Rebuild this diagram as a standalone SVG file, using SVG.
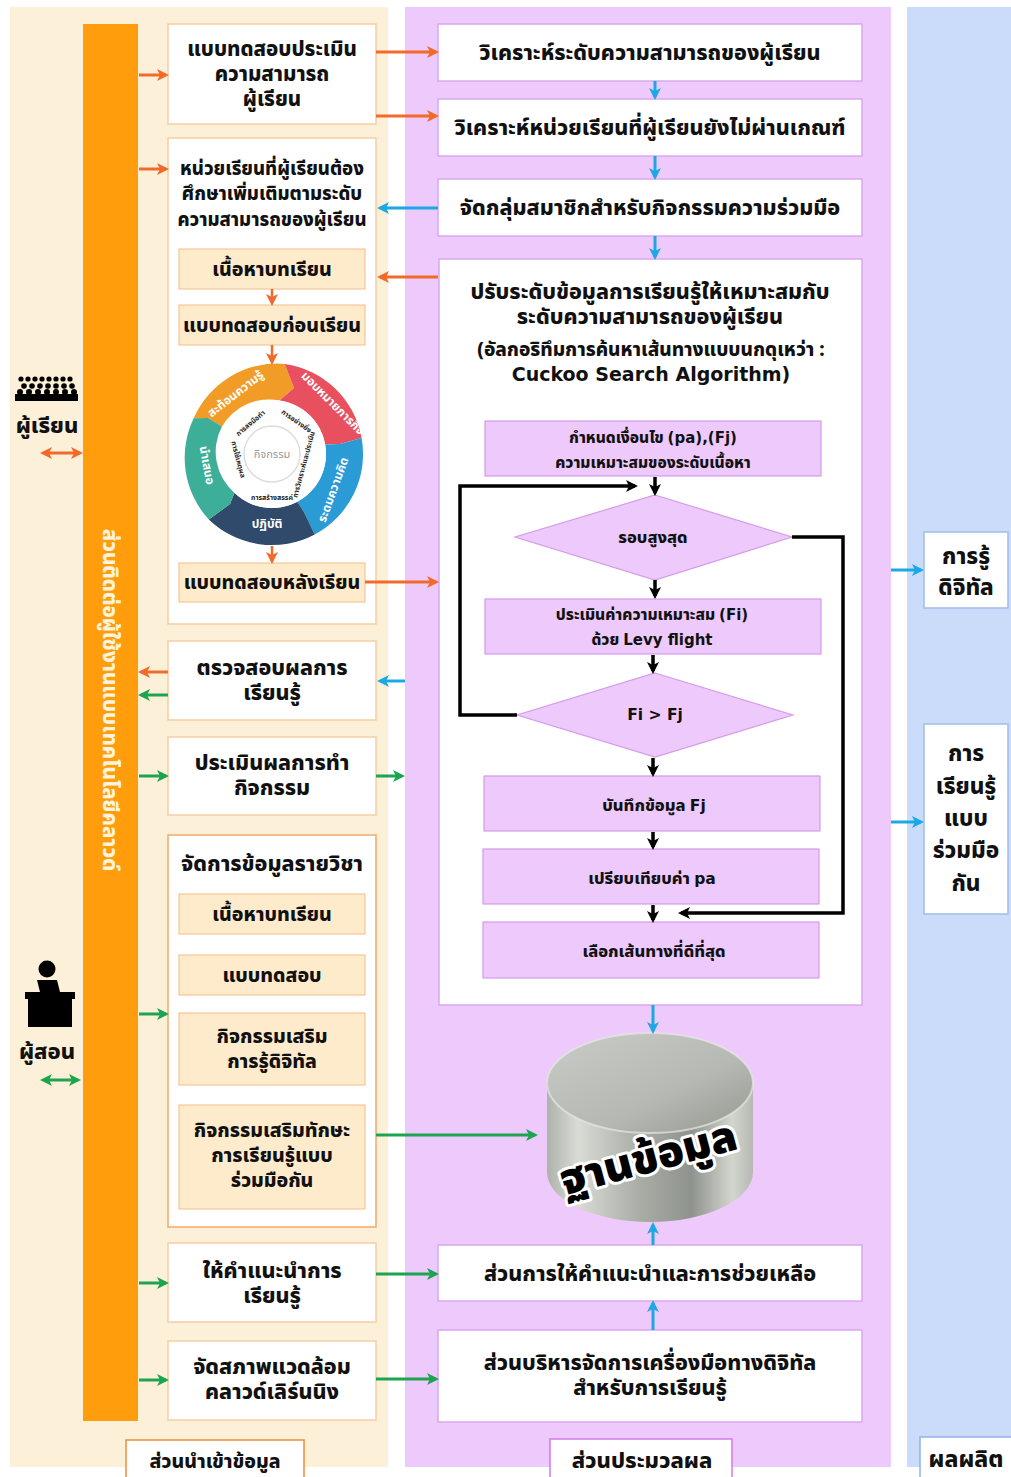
<svg xmlns="http://www.w3.org/2000/svg" width="1011" height="1477" viewBox="0 0 1011 1477">
  <style>
    .t { font-family: "Noto Sans Thai", "Noto Sans", "Liberation Sans", sans-serif; font-weight: 800; fill: #111; text-anchor: middle; }
    .en { font-family: "DejaVu Sans", "Noto Sans Thai", sans-serif; font-weight: 700; }
    .box { fill: #fff; stroke: #F7CDA3; stroke-width: 1.5; }
    .sub { fill: #FDEBCB; stroke: #F5C795; stroke-width: 1.2; }
    .mbox { fill: #fff; stroke: #D9A8EE; stroke-width: 1.5; }
    .fbox { fill: #EEC9FB; stroke: #D49BEA; stroke-width: 1.2; }
    .rbox { fill: #fff; stroke: #9FBDEB; stroke-width: 1.5; }
    .ao { stroke: #F26A2A; stroke-width: 3; fill: none; marker-end: url(#hO); }
    .ag { stroke: #1CA450; stroke-width: 3; fill: none; marker-end: url(#hG); }
    .ab { stroke: #1BA8E5; stroke-width: 3; fill: none; marker-end: url(#hB); }
    .ak { stroke: #000; stroke-width: 3.5; fill: none; marker-end: url(#hK); }
    .seg { font-family: "Noto Sans Thai", "Noto Sans", sans-serif; font-weight: 700; font-size: 12px; fill: #fff; text-anchor: middle; }
    .inn { font-family: "Noto Sans Thai", "Noto Sans", sans-serif; font-weight: 700; font-size: 7px; fill: #222; text-anchor: middle; }
  </style>
  <defs>
    <marker id="hO" markerWidth="12" markerHeight="12" refX="9" refY="6" orient="auto" markerUnits="userSpaceOnUse"><path d="M0,0 L12,6 L0,12 L3,6 z" fill="#F26A2A"/></marker>
    <marker id="hG" markerWidth="12" markerHeight="12" refX="9" refY="6" orient="auto" markerUnits="userSpaceOnUse"><path d="M0,0 L12,6 L0,12 L3,6 z" fill="#1CA450"/></marker>
    <marker id="hB" markerWidth="12" markerHeight="12" refX="9" refY="6" orient="auto" markerUnits="userSpaceOnUse"><path d="M0,0 L12,6 L0,12 L3,6 z" fill="#1BA8E5"/></marker>
    <marker id="hK" markerWidth="12" markerHeight="12" refX="9" refY="6" orient="auto" markerUnits="userSpaceOnUse"><path d="M0,0 L12,6 L0,12 L3,6 z" fill="#000"/></marker>
    <marker id="sO" markerWidth="12" markerHeight="12" refX="3" refY="6" orient="auto-start-reverse" markerUnits="userSpaceOnUse"><path d="M0,0 L12,6 L0,12 L3,6 z" fill="#F26A2A"/></marker>
    <marker id="sG" markerWidth="12" markerHeight="12" refX="3" refY="6" orient="auto-start-reverse" markerUnits="userSpaceOnUse"><path d="M0,0 L12,6 L0,12 L3,6 z" fill="#1CA450"/></marker>
    <linearGradient id="cylBody" x1="0" y1="0" x2="1" y2="0">
      <stop offset="0" stop-color="#AEB2AB"/>
      <stop offset="0.15" stop-color="#D9DBD5"/>
      <stop offset="0.45" stop-color="#A9ADA6"/>
      <stop offset="0.7" stop-color="#8F938D"/>
      <stop offset="0.9" stop-color="#D3D6CF"/>
      <stop offset="1" stop-color="#B5B9B2"/>
    </linearGradient>
    <linearGradient id="cylTop" x1="0" y1="0" x2="1" y2="1">
      <stop offset="0" stop-color="#C9CBC6"/>
      <stop offset="0.6" stop-color="#B6B9B3"/>
      <stop offset="1" stop-color="#94978F"/>
    </linearGradient>
  </defs>

  <!-- background panels -->
  <rect x="0" y="0" width="1011" height="1477" fill="#fff"/>
  <rect x="10" y="7" width="378" height="1460" fill="#FDF0D9"/>
  <rect x="405" y="7" width="486" height="1460" fill="#EEC9FB"/>
  <rect x="907" y="7" width="104" height="1460" fill="#CBDBFA"/>

  <!-- interface bar -->
  <g id="interface-bar">
    <rect x="83" y="24" width="55" height="1397" fill="#FF9D0C"/>
    <text class="t" transform="translate(111,700) rotate(90)" y="8" font-size="20.5" style="fill:#FFF3DC">ส่วนติดต่อผู้ใช้งานแบบเทคโนโลยีคลาวด์</text>
  </g>

  <!-- learner actor -->
  <g id="learner">
    <g fill="#000">
      <circle cx="21" cy="379" r="2.6"/><circle cx="28" cy="379" r="2.6"/><circle cx="35" cy="379" r="2.6"/><circle cx="42" cy="379" r="2.6"/><circle cx="49" cy="379" r="2.6"/><circle cx="56" cy="379" r="2.6"/><circle cx="63" cy="379" r="2.6"/><circle cx="70" cy="379" r="2.6"/>
      <circle cx="24" cy="386" r="2.8"/><circle cx="32" cy="386" r="2.8"/><circle cx="40" cy="386" r="2.8"/><circle cx="48" cy="386" r="2.8"/><circle cx="56" cy="386" r="2.8"/><circle cx="64" cy="386" r="2.8"/><circle cx="72" cy="386" r="2.8"/>
      <circle cx="20" cy="392" r="3"/><circle cx="29" cy="392" r="3"/><circle cx="38" cy="392" r="3"/><circle cx="47" cy="392" r="3"/><circle cx="56" cy="392" r="3"/><circle cx="65" cy="392" r="3"/><circle cx="74" cy="392" r="3"/>
      <rect x="15" y="394" width="63" height="7"/>
    </g>
    <text class="t" x="47" y="433" font-size="22">ผู้เรียน</text>
  </g>

  <!-- teacher actor -->
  <g id="teacher">
    <circle cx="47" cy="969" r="8.5" fill="#000"/>
    <path d="M37,980 h20 l3,12 h15 v7 h-3 v28 h-44 v-28 h-3 v-7 h15 z" fill="#000"/>
    <text class="t" x="47" y="1059" font-size="22">ผู้สอน</text>
  </g>

  <!-- input-side nodes -->
  <g id="test-ability">
    <rect class="box" x="168" y="24" width="208" height="100"/>
    <text class="t" font-size="20.5"><tspan x="272" y="56">แบบทดสอบประเมิน</tspan><tspan x="272" y="81">ความสามารถ</tspan><tspan x="272" y="106">ผู้เรียน</tspan></text>
  </g>

  <g id="study-units">
    <rect class="box" x="168" y="138" width="208" height="486"/>
    <text class="t" font-size="18.5"><tspan x="272" y="175">หน่วยเรียนที่ผู้เรียนต้อง</tspan><tspan x="272" y="200">ศึกษาเพิ่มเติมตามระดับ</tspan><tspan x="272" y="226">ความสามารถของผู้เรียน</tspan></text>
  </g>
  <g id="lesson-content">
    <rect class="sub" x="179" y="249" width="186" height="40"/>
    <text class="t" x="272" y="276" font-size="19.5">เนื้อหาบทเรียน</text>
  </g>
  <g id="pretest">
    <rect class="sub" x="179" y="305" width="186" height="40"/>
    <text class="t" x="272" y="332" font-size="19.5">แบบทดสอบก่อนเรียน</text>
  </g>

  <!-- activity cycle wheel -->
  <g id="activity-wheel">
    <!-- segments: orange, red, blue, navy, teal (clockwise chevrons) -->
    <path d="M193.7,418.3 A91,91 0 0,1 284.7,363.9 L294,388 L279.5,400.5 A54,54 0 0,0 222.0,426.5 L208,418 Z" fill="#F29C28"/>
    <path d="M284.7,363.9 A91,91 0 0,1 361.6,437.9 L340,444 L325.2,444.6 A54,54 0 0,0 279.5,400.5 L294,388 Z" fill="#E8505F"/>
    <path d="M361.6,437.9 A91,91 0 0,1 314.7,534.4 L304,512 L297.3,501.7 A54,54 0 0,0 325.2,444.6 L340,444 Z" fill="#2B9BD6"/>
    <path d="M314.7,534.4 A91,91 0 0,1 208.8,519.5 L230,504 L234.5,492.8 A54,54 0 0,0 297.3,501.7 L304,512 Z" fill="#2F4A6B"/>
    <path d="M208.8,519.5 A91,91 0 0,1 193.7,418.3 L208,418 L222.0,426.5 A54,54 0 0,0 234.5,492.8 L230,504 Z" fill="#3DAE97"/>
    <circle cx="272" cy="454" r="54" fill="#fff"/>
    <circle cx="272" cy="454" r="28" fill="#fff" stroke="#DDD" stroke-width="1.5"/>
    <text x="272" y="458" text-anchor="middle" font-family="Noto Sans Thai, Noto Sans, sans-serif" font-size="11" fill="#999">กิจกรรม</text>
    <text class="seg" transform="translate(238,397) rotate(-38)">สะท้อนความรู้</text>
    <text class="seg" transform="translate(330,406) rotate(45)">มอบหมายภารกิจ</text>
    <text class="seg" transform="translate(337,491) rotate(-70)">ระดมความคิด</text>
    <text class="seg" x="267" y="528">ปฏิบัติ</text>
    <text class="seg" transform="translate(203,466) rotate(80)">นำเสนอ</text>
    <text class="inn" transform="translate(252,425) rotate(-40)">การลงมือทำ</text>
    <text class="inn" transform="translate(295,423) rotate(35)">การอย่างยิ่ง</text>
    <text class="inn" transform="translate(306,465) rotate(-75)">การวิเคราะห์และประเมิน</text>
    <text class="inn" x="272" y="500">การสร้างสรรค์</text>
    <text class="inn" transform="translate(236,460) rotate(75)">การใช้เหตุผล</text>
  </g>

  <g id="posttest">
    <rect class="sub" x="179" y="563" width="186" height="39"/>
    <text class="t" x="272" y="589" font-size="19.5">แบบทดสอบหลังเรียน</text>
  </g>

  <g id="check-results">
    <rect class="box" x="168" y="641" width="208" height="79"/>
    <text class="t" font-size="21.5"><tspan x="272" y="675">ตรวจสอบผลการ</tspan><tspan x="272" y="700">เรียนรู้</tspan></text>
  </g>
  <g id="evaluate-activity">
    <rect class="box" x="168" y="737" width="208" height="78"/>
    <text class="t" font-size="21.5"><tspan x="272" y="770">ประเมินผลการทำ</tspan><tspan x="272" y="795">กิจกรรม</tspan></text>
  </g>

  <g id="course-data">
    <rect class="box" x="168" y="835" width="208" height="392" style="stroke:#F3A868"/>
    <text class="t" x="272" y="871" font-size="21.5">จัดการข้อมูลรายวิชา</text>
  </g>
  <g id="course-content">
    <rect class="sub" x="179" y="894" width="186" height="40"/>
    <text class="t" x="272" y="921" font-size="19.5">เนื้อหาบทเรียน</text>
  </g>
  <g id="course-test">
    <rect class="sub" x="179" y="955" width="186" height="40"/>
    <text class="t" x="272" y="982" font-size="19.5">แบบทดสอบ</text>
  </g>
  <g id="digital-activity">
    <rect class="sub" x="179" y="1013" width="186" height="72"/>
    <text class="t" font-size="19.5"><tspan x="272" y="1043">กิจกรรมเสริม</tspan><tspan x="272" y="1068">การรู้ดิจิทัล</tspan></text>
  </g>
  <g id="collab-activity">
    <rect class="sub" x="179" y="1105" width="186" height="104"/>
    <text class="t" font-size="19.5"><tspan x="272" y="1137">กิจกรรมเสริมทักษะ</tspan><tspan x="272" y="1162">การเรียนรู้แบบ</tspan><tspan x="272" y="1187">ร่วมมือกัน</tspan></text>
  </g>

  <g id="advise">
    <rect class="box" x="168" y="1243" width="208" height="79"/>
    <text class="t" font-size="21.5"><tspan x="272" y="1278">ให้คำแนะนำการ</tspan><tspan x="272" y="1303">เรียนรู้</tspan></text>
  </g>
  <g id="cloud-env">
    <rect class="box" x="168" y="1341" width="208" height="79"/>
    <text class="t" font-size="21.5"><tspan x="272" y="1374">จัดสภาพแวดล้อม</tspan><tspan x="272" y="1399">คลาวด์เลิร์นนิง</tspan></text>
  </g>

  <g id="label-input">
    <rect x="126" y="1440" width="178" height="40" fill="#fff" stroke="#F08A3A" stroke-width="1.5"/>
    <text class="t" x="215" y="1468" font-size="19.5">ส่วนนำเข้าข้อมูล</text>
  </g>

  <!-- processing-side nodes -->
  <g id="analyze-level">
    <rect class="mbox" x="438" y="24" width="424" height="57"/>
    <text class="t" x="650" y="60" font-size="21.5">วิเคราะห์ระดับความสามารถของผู้เรียน</text>
  </g>
  <g id="analyze-units">
    <rect class="mbox" x="438" y="99" width="424" height="57"/>
    <text class="t" x="650" y="135" font-size="21.5">วิเคราะห์หน่วยเรียนที่ผู้เรียนยังไม่ผ่านเกณฑ์</text>
  </g>
  <g id="group-members">
    <rect class="mbox" x="438" y="179" width="424" height="57"/>
    <text class="t" x="650" y="215" font-size="21.5">จัดกลุ่มสมาชิกสำหรับกิจกรรมความร่วมมือ</text>
  </g>

  <g id="adapt-level">
    <rect class="mbox" x="439" y="259" width="423" height="746"/>
    <text class="t" font-size="21.5"><tspan x="650" y="299">ปรับระดับข้อมูลการเรียนรู้ให้เหมาะสมกับ</tspan><tspan x="650" y="324">ระดับความสามารถของผู้เรียน</tspan></text>
    <text class="t" font-size="19"><tspan x="651" y="356">(อัลกอริทึมการค้นหาเส้นทางแบบนกดุเหว่า :</tspan><tspan class="en" x="651" y="381">Cuckoo Search Algorithm)</tspan></text>
  </g>

  <g id="set-condition">
    <rect class="fbox" x="485" y="421" width="336" height="55"/>
    <text class="t" font-size="15.5"><tspan x="653" y="443">กำหนดเงื่อนไข <tspan class="en" font-size="15">(pa),(Fj)</tspan></tspan><tspan x="653" y="468">ความเหมาะสมของระดับเนื้อหา</tspan></text>
  </g>
  <g id="max-round">
    <polygon class="fbox" points="655,495 792,537 655,580 515,537"/>
    <text class="t" x="653" y="543" font-size="16.5">รอบสูงสุด</text>
  </g>
  <g id="evaluate-fitness">
    <rect class="fbox" x="485" y="599" width="336" height="55"/>
    <text class="t" font-size="15.5"><tspan x="652" y="620">ประเมินค่าความเหมาะสม <tspan class="en" font-size="15">(Fi)</tspan></tspan><tspan x="652" y="645">ด้วย <tspan class="en" font-size="15">Levy flight</tspan></tspan></text>
  </g>
  <g id="compare-fitness">
    <polygon class="fbox" points="655,673 793,715 655,757 517,715"/>
    <text class="t en" x="655" y="720" font-size="15.5">Fi &gt; Fj</text>
  </g>
  <g id="save-fj">
    <rect class="fbox" x="484" y="776" width="336" height="55"/>
    <text class="t" x="654" y="811" font-size="16.5">บันทึกข้อมูล <tspan class="en" font-size="15.5">Fj</tspan></text>
  </g>
  <g id="compare-pa">
    <rect class="fbox" x="483" y="849" width="336" height="55"/>
    <text class="t" x="652" y="884" font-size="16.5">เปรียบเทียบค่า <tspan class="en" font-size="15.5">pa</tspan></text>
  </g>
  <g id="best-path">
    <rect class="fbox" x="483" y="922" width="336" height="56"/>
    <text class="t" x="654" y="957" font-size="16.5">เลือกเส้นทางที่ดีที่สุด</text>
  </g>

  <g id="database">
    <path d="M547,1083 L547,1172 A103,50 0 0,0 753,1172 L753,1083 Z" fill="url(#cylBody)"/>
    <ellipse cx="650" cy="1083" rx="103" ry="50" fill="url(#cylTop)"/>
    <ellipse cx="650" cy="1083" rx="103" ry="50" fill="none" stroke="#E6E8E3" stroke-width="2" opacity="0.7"/>
    <text transform="translate(652,1172) rotate(-15)" text-anchor="middle" font-family="Noto Sans Thai, Noto Sans, sans-serif" font-weight="900" font-size="43" fill="#000" stroke="#fff" stroke-width="6" paint-order="stroke" stroke-linejoin="round">ฐานข้อมูล</text>
  </g>

  <g id="support">
    <rect class="mbox" x="438" y="1245" width="424" height="56"/>
    <text class="t" x="650" y="1281" font-size="21.5">ส่วนการให้คำแนะนำและการช่วยเหลือ</text>
  </g>
  <g id="digital-tools">
    <rect class="mbox" x="438" y="1330" width="424" height="92"/>
    <text class="t" font-size="21.5"><tspan x="650" y="1370">ส่วนบริหารจัดการเครื่องมือทางดิจิทัล</tspan><tspan x="650" y="1395">สำหรับการเรียนรู้</tspan></text>
  </g>
  <g id="label-process">
    <rect x="550" y="1439" width="182" height="42" fill="#fff" stroke="#D07BEA" stroke-width="1.5"/>
    <text class="t" x="642" y="1468" font-size="22">ส่วนประมวลผล</text>
  </g>

  <!-- output-side nodes -->
  <g id="digital-literacy">
    <rect class="rbox" x="924" y="532" width="84" height="76"/>
    <text class="t" font-size="22.5"><tspan x="966" y="564">การรู้</tspan><tspan x="966" y="595">ดิจิทัล</tspan></text>
  </g>
  <g id="collab-learning">
    <rect class="rbox" x="924" y="724" width="84" height="190"/>
    <text class="t" font-size="22.5"><tspan x="966" y="761">การ</tspan><tspan x="966" y="794">เรียนรู้</tspan><tspan x="966" y="826">แบบ</tspan><tspan x="966" y="858">ร่วมมือ</tspan><tspan x="966" y="891">กัน</tspan></text>
  </g>
  <g id="label-output">
    <rect x="920" y="1437" width="95" height="44" fill="#fff" stroke="#8FB5EA" stroke-width="1.5"/>
    <text class="t" x="966" y="1467" font-size="23">ผลผลิต</text>
  </g>

  <!-- connectors -->
  <g id="connectors">
    <!-- actors to interface bar -->
    <line x1="49" y1="453" x2="80" y2="453" stroke="#F26A2A" stroke-width="3" marker-start="url(#sO)" marker-end="url(#hO)"/>
    <line x1="49" y1="1080" x2="78" y2="1080" stroke="#1CA450" stroke-width="3" marker-start="url(#sG)" marker-end="url(#hG)"/>

    <!-- interface bar to input nodes -->
    <line class="ao" x1="139" y1="75" x2="166" y2="75"/>
    <line class="ao" x1="139" y1="169" x2="166" y2="169"/>
    <line class="ao" x1="168" y1="672" x2="141" y2="672"/>
    <line class="ag" x1="168" y1="695" x2="141" y2="695"/>
    <line class="ag" x1="139" y1="776" x2="166" y2="776"/>
    <line class="ag" x1="139" y1="1014" x2="166" y2="1014"/>
    <line class="ag" x1="139" y1="1283" x2="166" y2="1283"/>
    <line class="ag" x1="139" y1="1380" x2="166" y2="1380"/>

    <!-- inner lesson sequence -->
    <line class="ao" x1="272" y1="289" x2="272" y2="303" style="stroke-width:2.5"/>
    <line class="ao" x1="272" y1="345" x2="272" y2="362" style="stroke-width:2.5"/>
    <line class="ao" x1="272" y1="546" x2="272" y2="561" style="stroke-width:2.5"/>

    <!-- input to processing -->
    <line class="ao" x1="376" y1="52" x2="436" y2="52"/>
    <line class="ao" x1="376" y1="116" x2="436" y2="116"/>
    <line class="ab" x1="438" y1="208" x2="380" y2="208"/>
    <line class="ao" x1="438" y1="277" x2="380" y2="277"/>
    <line class="ao" x1="365" y1="582" x2="436" y2="582"/>
    <line class="ab" x1="405" y1="681" x2="380" y2="681"/>
    <line class="ag" x1="376" y1="776" x2="402" y2="776"/>
    <line class="ag" x1="376" y1="1135" x2="535" y2="1135"/>
    <line class="ag" x1="376" y1="1274" x2="436" y2="1274"/>
    <line class="ag" x1="376" y1="1379" x2="436" y2="1379"/>

    <!-- processing chain -->
    <line class="ab" x1="655" y1="81" x2="655" y2="97"/>
    <line class="ab" x1="655" y1="156" x2="655" y2="177"/>
    <line class="ab" x1="655" y1="236" x2="655" y2="257"/>
    <line class="ab" x1="653" y1="1005" x2="653" y2="1031"/>
    <line class="ab" x1="653" y1="1245" x2="653" y2="1225"/>
    <line class="ab" x1="653" y1="1330" x2="653" y2="1303"/>

    <!-- cuckoo search flow -->
    <line class="ak" x1="655" y1="477" x2="655" y2="493"/>
    <line class="ak" x1="655" y1="580" x2="655" y2="596"/>
    <line class="ak" x1="653" y1="655" x2="653" y2="671"/>
    <line class="ak" x1="653" y1="758" x2="653" y2="774"/>
    <line class="ak" x1="653" y1="832" x2="653" y2="847"/>
    <line class="ak" x1="653" y1="905" x2="653" y2="920"/>
    <polyline class="ak" points="517,715 460,715 460,486 635,486"/>
    <polyline class="ak" points="792,537 843,537 843,913 681,913"/>

    <!-- processing to output -->
    <line class="ab" x1="891" y1="570" x2="921" y2="570"/>
    <line class="ab" x1="891" y1="822" x2="921" y2="822"/>
  </g>
</svg>
